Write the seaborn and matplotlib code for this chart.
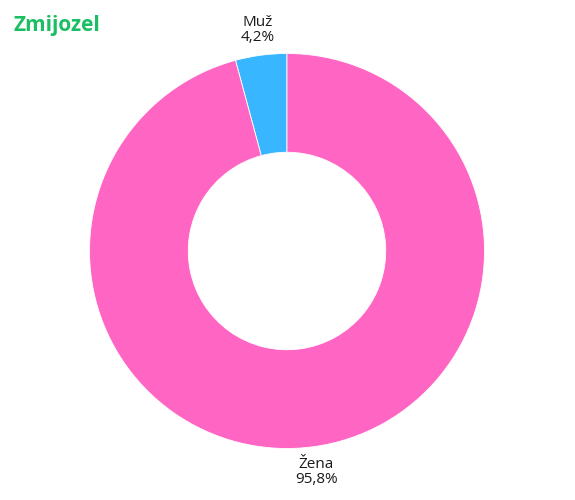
import matplotlib
matplotlib.use("Agg")
import matplotlib.pyplot as plt
import seaborn as sns

sns.set_theme(style="white")
plt.rcParams['font.family'] = ['Open Sans', 'DejaVu Sans']

categories = ["Muž", "Žena"]
values = [4.2, 95.8]
value_labels = ["4,2%", "95,8%"]
colors = ["#38B6FF", "#FF66C4"]
title = "Zmijozel"

fig = plt.figure(figsize=(5.75, 5.0), dpi=100)
R = 197.5
cx, cy = 287, 251
ax = fig.add_axes([(cx - R) / 575, (500 - cy - R) / 500, 2 * R / 575, 2 * R / 500])
wedges, texts = ax.pie(values, colors=colors, startangle=90, counterclock=True,
                       radius=1.0,
                       labels=[f"{c}\n{v}" for c, v in zip(categories, value_labels)],
                       labeldistance=1.13,
                       wedgeprops=dict(width=0.5, edgecolor="white", linewidth=0.6),
                       textprops=dict(fontsize=11, color="#1a1a1a", ha="center", va="center",
                                      linespacing=1.0))
for t in texts:
    t.set_ha("center")
    t.set_va("center")
ax.set_xlim(-1, 1)
ax.set_ylim(-1, 1)
ax.set_aspect("equal")
ax.axis("off")

fig.text(13 / 575, 1 - 25 / 500, title, fontsize=15, fontweight="bold", color="#1BBF63",
         ha="left", va="center")

fig.savefig("out.png", dpi=100)
